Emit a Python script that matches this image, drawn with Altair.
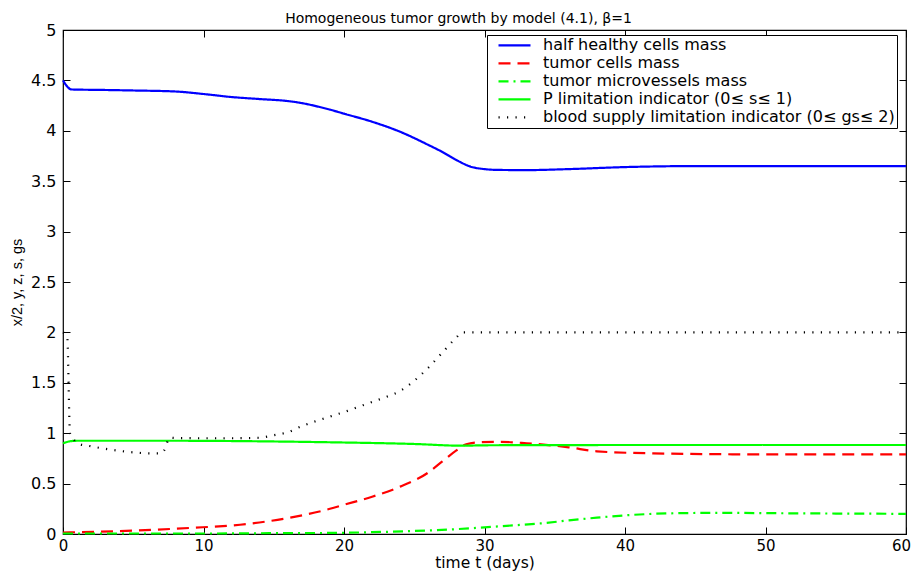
import altair as alt
import pandas as pd

# ---- data ----
names = [
    "half healthy cells mass",
    "tumor cells mass",
    "tumor microvessels mass",
    "P limitation indicator (0≤ s≤ 1)",
    "blood supply limitation indicator (0≤ gs≤ 2)",
]

t_h = [0, 0.3, 0.6, 3, 5, 8, 10, 12, 14, 16, 17, 18, 19, 20, 22, 24, 26, 27, 28, 29, 30, 31, 33, 36, 40, 45, 50, 60]
v_h = [4.5, 4.44, 4.41, 4.405, 4.4, 4.39, 4.365, 4.335, 4.315, 4.295, 4.275, 4.245, 4.21, 4.17, 4.09, 3.99, 3.86, 3.79, 3.71, 3.645, 3.62, 3.612, 3.61, 3.62, 3.64, 3.65, 3.65, 3.65]

t_y = [0, 5, 9, 12.6, 16, 19, 20, 22, 24, 26, 27, 28, 28.7, 29.6, 31, 33, 36, 38, 42, 50, 60]
v_y = [0.015, 0.033, 0.06, 0.092, 0.158, 0.25, 0.29, 0.37, 0.47, 0.61, 0.72, 0.83, 0.89, 0.91, 0.915, 0.9, 0.86, 0.82, 0.8, 0.79, 0.79]

t_z = [0, 10, 15, 20, 22, 25, 28, 30, 32, 34, 36, 38, 40, 42, 44, 47, 50, 55, 60]
v_z = [0.005, 0.005, 0.008, 0.012, 0.018, 0.03, 0.048, 0.066, 0.085, 0.105, 0.135, 0.162, 0.185, 0.2, 0.207, 0.21, 0.207, 0.203, 0.2]

t_s = [0, 0.5, 1, 8, 15, 19, 25, 28.4, 30, 35, 42, 50, 60]
v_s = [0.9, 0.92, 0.925, 0.925, 0.918, 0.91, 0.893, 0.876, 0.88, 0.882, 0.883, 0.883, 0.883]

t_g = [0, 0.3, 0.5, 0.8, 1, 2, 3, 4, 5, 6.2, 7, 7.2, 7.6, 8, 10, 12, 14, 15, 16, 17, 18, 19, 20, 21, 22, 23, 24, 25, 26, 27, 28, 28.4, 35, 45, 60]
v_g = [2.0, 1.95, 1.0, 0.93, 0.9, 0.87, 0.845, 0.825, 0.81, 0.8, 0.8, 0.83, 0.955, 0.952, 0.95, 0.95, 0.955, 0.98, 1.01, 1.07, 1.12, 1.165, 1.21, 1.26, 1.31, 1.36, 1.42, 1.52, 1.65, 1.8, 1.95, 2.0, 2.0, 2.0, 2.0]

x_ticks = [0, 10, 20, 30, 40, 50, 60]
y_ticks = [0, 0.5, 1, 1.5, 2, 2.5, 3, 3.5, 4, 4.5, 5]

colors = ["#0000ff", "#ff0000", "#00ff00", "#00ff00", "#000000"]
dashes = [[1, 0], [12, 7], [10, 5, 2, 5], [1, 0], [1.2, 7.3]]
widths = [2.2, 2.2, 2.2, 2.2, 1.3]

rows = []
for k, (tt, vv) in enumerate([(t_h, v_h), (t_y, v_y), (t_z, v_z), (t_s, v_s), (t_g, v_g)]):
    for a, b in zip(tt, vv):
        rows.append({"t": a, "v": b, "series": names[k], "order": k})
df = pd.DataFrame(rows)

FONT = "DejaVu Sans"
TICK = 7

xs = alt.Scale(domain=[0, 60], nice=False)
ys = alt.Scale(domain=[0, 5], nice=False)

lines = alt.Chart(df).mark_line(interpolate="monotone").encode(
    x=alt.X("t:Q", scale=xs, title="time t (days)",
            axis=alt.Axis(values=x_ticks, orient="bottom", domain=False, offset=-TICK,
                          tickSize=TICK, labelPadding=4, titlePadding=2, format="d",
                          labelFontSize=15, titleFontSize=15.5, labelFlush=False,
                          labelOffset=alt.expr("datum.value == 60 ? -5 : 0"))),
    y=alt.Y("v:Q", scale=ys, title="x/2, y, z, s, gs",
            axis=alt.Axis(values=y_ticks, orient="left", domain=False, offset=-TICK,
                          tickSize=TICK, labelPadding=7, titlePadding=6, format="~g",
                          labelFontSize=16, titleFont="Liberation Sans", titleFontSize=14.5)),
    color=alt.Color("series:N", title=None,
                    scale=alt.Scale(domain=names, range=colors),
                    legend=alt.Legend(orient="none", legendX=424, legendY=5, padding=2,
                                      symbolType="stroke", symbolSize=1024, clipHeight=16.9,
                                      rowPadding=1, labelOffset=11, symbolOffset=8,
                                      fillColor="white", strokeColor="black",
                                      labelFontSize=16, labelFont=FONT, labelColor="black",
                                      labelLimit=600)),
    strokeDash=alt.StrokeDash("series:N", title=None,
                              scale=alt.Scale(domain=names, range=dashes)),
    strokeWidth=alt.StrokeWidth("series:N", title=None,
                                scale=alt.Scale(domain=names, range=widths)),
    detail="series:N",
    order="order:Q",
)

frame = alt.Chart(df).mark_line(opacity=0).encode(
    x=alt.X("t:Q", scale=xs, title=None,
            axis=alt.Axis(values=x_ticks, orient="top", domain=False, offset=-TICK,
                          tickSize=TICK, labels=False)),
    y=alt.Y("v:Q", scale=ys, title=None,
            axis=alt.Axis(values=y_ticks, orient="right", domain=False, offset=-TICK,
                          tickSize=TICK, labels=False)),
)

chart = alt.layer(frame, lines).resolve_axis(x="independent", y="independent").properties(
    width=843, height=504,
    padding={"left": 55, "top": 22, "right": 5, "bottom": 37},
    autosize=alt.AutoSizeParams(type="none"),
    title=alt.TitleParams("Homogeneous tumor growth by model (4.1), β=1", font=FONT,
                          fontSize=14, fontWeight="normal", color="black", offset=-4,
                          anchor="middle", dx=-26),
).configure_view(stroke="black", strokeWidth=1.2).configure_axis(
    labelFont=FONT, titleFont=FONT,
    labelColor="black", titleColor="black", tickColor="black", tickWidth=1,
    titleFontWeight="normal", grid=False,
)

chart.save("out.html", embed_options={"renderer": "svg", "actions": False})
